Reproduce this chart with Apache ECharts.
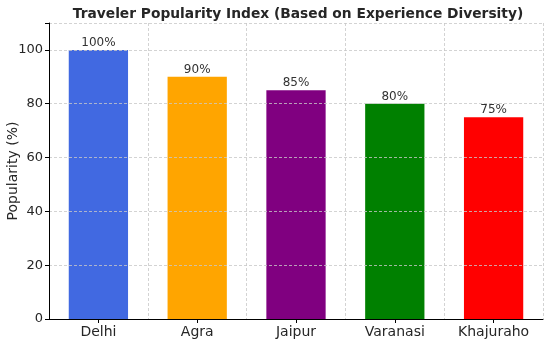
<!DOCTYPE html>
<html><head><meta charset="utf-8">
<script src="https://cdn.jsdelivr.net/npm/echarts@6/dist/echarts.min.js"></script>
<style>html,body{margin:0;padding:0;background:#fff}#c{width:552px;height:353px}</style>
</head><body><div id="c"></div>
<script>
const categories = ["Delhi", "Agra", "Jaipur", "Varanasi", "Khajuraho"];
const popularity = [100, 90, 85, 80, 75];
const barColors = ["#4169E1", "#FFA500", "#800080", "#008000", "#FF0000"];
const yTicks = [0, 20, 40, 60, 80, 100];

const chart = echarts.init(document.getElementById('c'), null, {renderer: 'canvas'});
const font = 'DejaVu Sans';
chart.setOption({
  animation: false,
  title: {
    text: 'Traveler Popularity Index (Based on Experience Diversity)',
    left: 293, top: 2, textAlign: 'center',
    textStyle: {fontFamily: font, fontSize: 13.8, fontWeight: 'bold', color: '#262626'}
  },
  grid: {left: 49, right: 9, top: 23, bottom: 34, containLabel: false, outerBoundsMode: 'none'},
  xAxis: {
    type: 'category', data: categories, z: 5,
    axisLine: {lineStyle: {color: '#000', width: 1}},
    axisTick: {show: true, alignWithLabel: true, length: 4, lineStyle: {color: '#000'}},
    axisLabel: {fontFamily: font, fontSize: 14, color: '#262626', margin: 6},
    splitLine: {show: true, lineStyle: {color: '#c8c8c8', type: [3, 2], width: 0.8}}
  },
  yAxis: {
    type: 'value', min: 0, max: 110, interval: 20, z: 5,
    name: 'Popularity (%)', nameLocation: 'middle', nameGap: 29, nameMoveOverlap: false,
    nameTextStyle: {fontFamily: font, fontSize: 14, color: '#262626'},
    axisLine: {show: true, lineStyle: {color: '#000', width: 1}},
    axisTick: {show: true, length: 4, lineStyle: {color: '#000'}},
    axisLabel: {fontFamily: font, fontSize: 13, color: '#262626', margin: 6,
      formatter: v => yTicks.includes(v) ? String(v) : ''},
    splitLine: {show: true, lineStyle: {color: '#c8c8c8', type: [3, 2], width: 0.8}}
  },
  series: [{
    type: 'bar', barWidth: '60%', z: 2,
    data: popularity.map((v, i) => ({value: v, itemStyle: {color: barColors[i]}})),
    label: {show: true, position: 'top', distance: 1, formatter: p => p.value + '%',
      fontFamily: font, fontSize: 12, color: '#333'}
  }]
});
</script></body></html>
